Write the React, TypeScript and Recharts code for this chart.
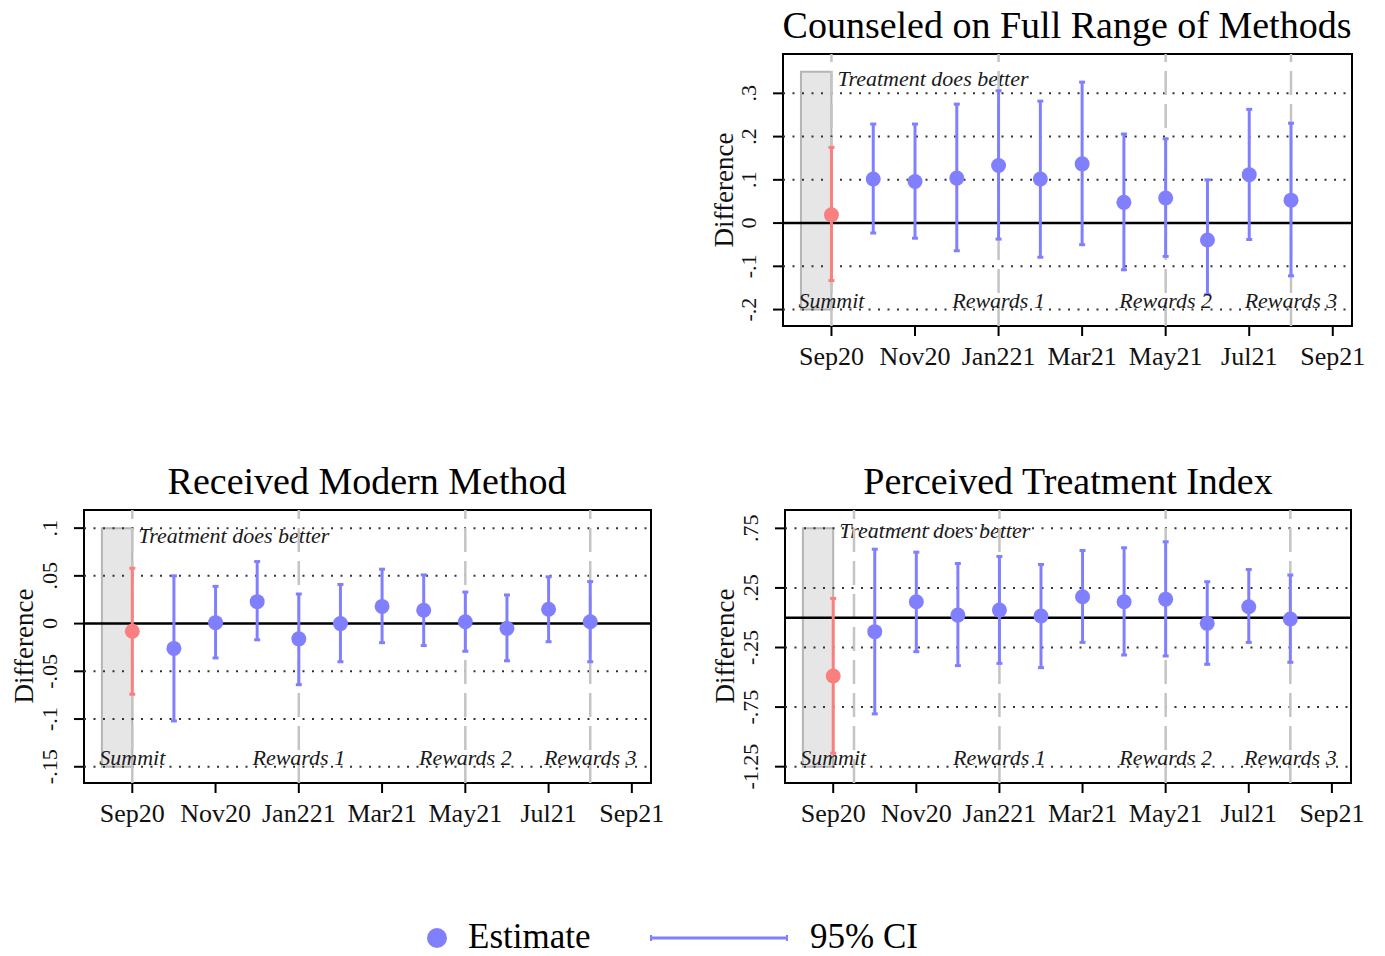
import React from 'react';
import {
  ComposedChart,
  Scatter,
  ErrorBar,
  XAxis,
  YAxis,
  ReferenceLine,
  ReferenceArea,
} from 'recharts';

// ---- data ---------------------------------------------------------------

const months = ['Sep20', 'Oct20', 'Nov20', 'Dec20', 'Jan21', 'Feb21', 'Mar21', 'Apr21', 'May21', 'Jun21', 'Jul21', 'Aug21'];

const xTickMonths = [0, 2, 4, 6, 8, 10, 12];
const xTickLabels = ['Sep20', 'Nov20', 'Jan221', 'Mar21', 'May21', 'Jul21', 'Sep21'];

const eventMonths = ['Jan21', 'May21', 'Aug21'];
const eventLabels = ['Rewards 1', 'Rewards 2', 'Rewards 3'];

// Counseled on Full Range of Methods
const counseledEst = [0.019, 0.102, 0.096, 0.104, 0.133, 0.102, 0.137, 0.048, 0.058, -0.039, 0.112, 0.053];
const counseledLo = [-0.133, -0.023, -0.035, -0.064, -0.037, -0.079, -0.05, -0.108, -0.077, -0.165, -0.038, -0.122];
const counseledHi = [0.175, 0.229, 0.229, 0.275, 0.306, 0.282, 0.326, 0.206, 0.195, 0.1, 0.263, 0.231];
const counseledTicks = [-0.2, -0.1, 0, 0.1, 0.2, 0.3];
const counseledTickLabels = ['-.2', '-.1', '0', '.1', '.2', '.3'];

// Received Modern Method
const modernEst = [-0.008, -0.026, 0.001, 0.023, -0.016, 0.0, 0.018, 0.014, 0.002, -0.005, 0.015, 0.002];
const modernLo = [-0.074, -0.102, -0.036, -0.017, -0.064, -0.04, -0.02, -0.023, -0.029, -0.039, -0.019, -0.04];
const modernHi = [0.058, 0.05, 0.039, 0.065, 0.031, 0.041, 0.057, 0.051, 0.033, 0.03, 0.049, 0.044];
const modernTicks = [-0.15, -0.1, -0.05, 0, 0.05, 0.1];
const modernTickLabels = ['-.15', '-.1', '-.05', '0', '.05', '.1'];

// Perceived Treatment Index
const perceivedEst = [-0.489, -0.117, 0.134, 0.022, 0.064, 0.014, 0.176, 0.134, 0.156, -0.047, 0.092, -0.011];
const perceivedLo = [-1.137, -0.807, -0.285, -0.402, -0.383, -0.419, -0.207, -0.313, -0.321, -0.391, -0.207, -0.374];
const perceivedHi = [0.162, 0.575, 0.55, 0.455, 0.514, 0.447, 0.564, 0.587, 0.637, 0.302, 0.405, 0.358];
const perceivedTicks = [-1.25, -0.75, -0.25, 0.25, 0.75];
const perceivedTickLabels = ['-1.25', '-.75', '-.25', '.25', '.75'];

// ---- styling ------------------------------------------------------------

const FONT = '"Liberation Serif", "Times New Roman", Times, serif';
const BLUE = '#8080ff';
const RED = '#fa8080';
const GREY_LINE = '#c4c4c4';
const X_DOMAIN: [number, number] = [-1.16, 12.46];
const SUMMIT_SHADE_START = -0.73;

type PanelProps = {
  left: number;
  top: number;
  width: number;
  height: number;
  yDomain: [number, number];
  yTicks: number[];
  yTickLabels: string[];
  est: number[];
  lo: number[];
  hi: number[];
  shadeTop: number;
  summitLineX: number;
  noteDy: number;
};

const Dot = (color: string) => (p: any) =>
  p.cx == null ? null : <circle cx={p.cx} cy={p.cy} r={7.5} fill={color} />;

function Panel(props: PanelProps) {
  const { left, top, width, height, yDomain, yTicks, yTickLabels, est, lo, hi, shadeTop, summitLineX, noteDy } = props;
  const YW = 100;
  const XH = 70;
  const MT = 10;
  const MR = 20;

  const rows = months.map((m, i) => ({
    x: i,
    month: m,
    est: est[i],
    err: [est[i] - lo[i], hi[i] - est[i]],
  }));
  const summitRows = rows.slice(0, 1);
  const postRows = rows.slice(1);

  const labelStyle = { fontFamily: FONT, fontStyle: 'italic', fontSize: 22, fill: '#1a1a1a' };

  return (
    <div style={{ position: 'absolute', left: left - YW, top: top - MT }}>
      <ComposedChart
        width={width + YW + MR}
        height={height + MT + XH}
        margin={{ top: MT, right: MR, bottom: 0, left: 0 }}
      >
        <XAxis
          type="number"
          dataKey="x"
          domain={X_DOMAIN}
          ticks={xTickMonths}
          interval={0}
          allowDataOverflow
          axisLine={false}
          tickLine={{ stroke: '#000', strokeWidth: 2 }}
          tickSize={10}
          tickMargin={0}
          height={XH}
          tick={(p: any) => (
            <text x={p.x} y={p.y + 29} textAnchor="middle" fontFamily={FONT} fontSize={26} fill="#111">
              {xTickLabels[xTickMonths.indexOf(p.payload.value)]}
            </text>
          )}
        />
        <YAxis
          type="number"
          domain={yDomain}
          ticks={yTicks}
          interval={0}
          allowDataOverflow
          axisLine={false}
          tickLine={{ stroke: '#000', strokeWidth: 2 }}
          tickSize={10}
          tickMargin={0}
          width={YW}
          tick={(p: any) => {
            const bx = p.x - 17;
            return (
              <text
                x={bx}
                y={p.y}
                transform={`rotate(-90 ${bx} ${p.y})`}
                textAnchor="middle"
                fontFamily={FONT}
                fontSize={22}
                fill="#111"
              >
                {yTickLabels[yTicks.indexOf(p.payload.value)]}
              </text>
            );
          }}
        />

        {/* summit shading with the "Treatment does better" note */}
        <ReferenceArea
          x1={SUMMIT_SHADE_START}
          x2={0}
          y1={yTicks[0]}
          y2={shadeTop}
          fill="#e6e6e6"
          fillOpacity={1}
          stroke="#b5b5b5"
          strokeWidth={2}
          label={(lp: any) => {
            const vb = lp.viewBox || {};
            return (
              <text x={vb.x + vb.width + 6} y={vb.y + noteDy} style={labelStyle as any}>
                Treatment does better
              </text>
            );
          }}
        />

        {/* dotted grid at each labelled value */}
        {yTicks
          .filter((v) => v !== 0)
          .map((v) => (
            <ReferenceLine key={`g${v}`} y={v} stroke="#333" strokeWidth={2} strokeDasharray="2 7.5" />
          ))}

        {/* summit and reward rounds */}
        <ReferenceLine x={summitLineX} stroke={GREY_LINE} strokeWidth={2.5} strokeDasharray="24 9" />
        <ReferenceLine
          x={0}
          stroke="none"
          label={{ value: 'Summit', position: 'insideBottom', offset: 18, style: labelStyle }}
        />
        {eventMonths.map((m, i) => (
          <ReferenceLine
            key={m}
            x={months.indexOf(m)}
            stroke={GREY_LINE}
            strokeWidth={2.5}
            strokeDasharray="24 9"
            label={{ value: eventLabels[i], position: 'insideBottom', offset: 18, style: labelStyle }}
          />
        ))}

        <ReferenceLine y={0} stroke="#000" strokeWidth={2.5} />

        <Scatter data={summitRows} dataKey="est" isAnimationActive={false} shape={Dot(RED)}>
          <ErrorBar dataKey="err" direction="y" width={3} stroke={RED} strokeWidth={3} isAnimationActive={false} />
        </Scatter>
        <Scatter data={postRows} dataKey="est" isAnimationActive={false} shape={Dot(BLUE)}>
          <ErrorBar dataKey="err" direction="y" width={3} stroke={BLUE} strokeWidth={3} isAnimationActive={false} />
        </Scatter>

        {/* plot frame */}
        <ReferenceArea
          x1={X_DOMAIN[0]}
          x2={X_DOMAIN[1]}
          y1={yDomain[0]}
          y2={yDomain[1]}
          fill="none"
          stroke="#000"
          strokeWidth={2}
        />
      </ComposedChart>
    </div>
  );
}

export default function App() {
  const titleStyle = { fontFamily: FONT, fontSize: 38, fill: '#000' };
  return (
    <div style={{ position: 'absolute', left: 0, top: 0, width: 1385, height: 956, background: '#fff' }}>
      <Panel
        left={783}
        top={54}
        width={569}
        height={272}
        yDomain={[-0.238, 0.391]}
        yTicks={counseledTicks}
        yTickLabels={counseledTickLabels}
        est={counseledEst}
        lo={counseledLo}
        hi={counseledHi}
        shadeTop={0.35}
        summitLineX={0}
        noteDy={14}
      />
      <Panel
        left={84}
        top={510}
        width={567}
        height={273}
        yDomain={[-0.167, 0.119]}
        yTicks={modernTicks}
        yTickLabels={modernTickLabels}
        est={modernEst}
        lo={modernLo}
        hi={modernHi}
        shadeTop={0.1}
        summitLineX={0}
        noteDy={15}
      />
      <Panel
        left={785}
        top={510}
        width={566}
        height={273}
        yDomain={[-1.387, 0.904]}
        yTicks={perceivedTicks}
        yTickLabels={perceivedTickLabels}
        est={perceivedEst}
        lo={perceivedLo}
        hi={perceivedHi}
        shadeTop={0.75}
        summitLineX={0.5}
        noteDy={10}
      />

      {/* titles, axis titles and legend */}
      <svg
        width={1385}
        height={956}
        style={{ position: 'absolute', left: 0, top: 0, pointerEvents: 'none' }}
      >
        <text x={1067} y={38} textAnchor="middle" style={titleStyle}>
          Counseled on Full Range of Methods
        </text>
        <text x={367} y={494} textAnchor="middle" style={titleStyle}>
          Received Modern Method
        </text>
        <text x={1068} y={494} textAnchor="middle" style={titleStyle}>
          Perceived Treatment Index
        </text>

        {[
          [733, 190],
          [33, 646],
          [734, 646],
        ].map(([x, y], i) => (
          <text
            key={i}
            x={x}
            y={y}
            transform={`rotate(-90 ${x} ${y})`}
            textAnchor="middle"
            fontFamily={FONT}
            fontSize={27}
            fill="#111"
          >
            Difference
          </text>
        ))}

        <circle cx={437} cy={938} r={10} fill={BLUE} />
        <text x={468} y={948} fontFamily={FONT} fontSize={35} fill="#000">
          Estimate
        </text>
        <line x1={651} y1={938} x2={787} y2={938} stroke={BLUE} strokeWidth={3} />
        <line x1={651} y1={935} x2={651} y2={941} stroke={BLUE} strokeWidth={2} />
        <line x1={787} y1={935} x2={787} y2={941} stroke={BLUE} strokeWidth={2} />
        <text x={810} y={948} fontFamily={FONT} fontSize={35} fill="#000">
          95% CI
        </text>
      </svg>
    </div>
  );
}
